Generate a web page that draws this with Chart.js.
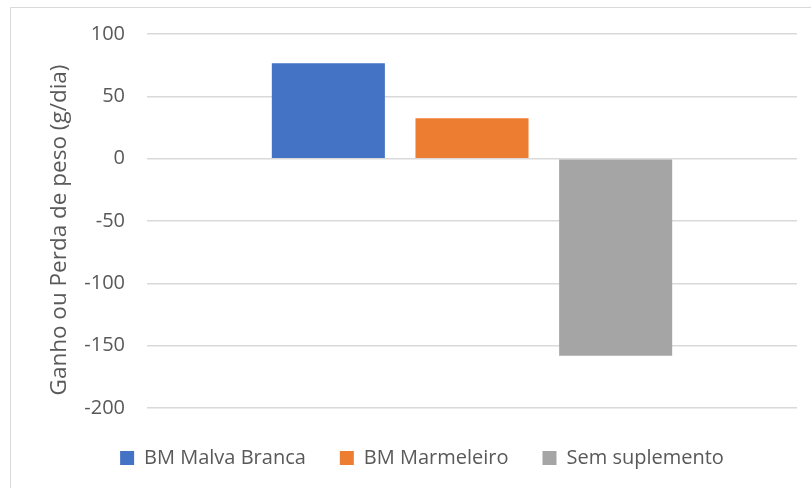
<!DOCTYPE html>
<html>
<head>
<meta charset="utf-8">
<script src="https://cdn.jsdelivr.net/npm/chart.js@4/dist/chart.umd.min.js"></script>
<style>
html,body{margin:0;padding:0;background:#fff;}
#wrap{width:811px;height:488px;position:relative;}
</style>
</head>
<body>
<div id="wrap"><canvas id="c" width="811" height="488"></canvas></div>
<script>
const categories = [''];
const seriesNames = ['BM Malva Branca', 'BM Marmeleiro', 'Sem suplemento'];
const malvaBranca = [76.5];
const marmeleiro = [32.5];
const semSuplemento = [-158];
const yTicks = [100, 50, 0, -50, -100, -150, -200];
const colors = ['#4472C4', '#ED7D31', '#A5A5A5'];
const axisTitle = 'Ganho ou Perda de peso (g/dia)';

const FONT = "'Open Sans', sans-serif";
const TEXT = '#595959';

const frame = {
  id: 'frame',
  beforeDraw(chart) {
    const ctx = chart.ctx;
    ctx.save();
    ctx.strokeStyle = '#d9d9d9';
    ctx.lineWidth = 1;
    ctx.beginPath();
    ctx.moveTo(10.5, 488);
    ctx.lineTo(10.5, 7.5);
    ctx.lineTo(811, 7.5);
    ctx.stroke();
    ctx.restore();
  }
};

const yTitle = {
  id: 'yTitle',
  afterDraw(chart) {
    const ctx = chart.ctx;
    const a = chart.chartArea;
    ctx.save();
    ctx.translate(60, (a.top + a.bottom) / 2 + 9);
    ctx.rotate(-Math.PI / 2);
    ctx.fillStyle = TEXT;
    ctx.font = "22.5px 'Open Sans', sans-serif";
    ctx.textAlign = 'center';
    ctx.textBaseline = 'middle';
    ctx.fillText(axisTitle, 0, 0);
    ctx.restore();
  }
};

new Chart(document.getElementById('c'), {
  type: 'bar',
  data: {
    labels: categories,
    datasets: [
      { label: seriesNames[0], data: malvaBranca, backgroundColor: colors[0] },
      { label: seriesNames[1], data: marmeleiro, backgroundColor: colors[1] },
      { label: seriesNames[2], data: semSuplemento, backgroundColor: colors[2] }
    ]
  },
  options: {
    responsive: false,
    animation: false,
    devicePixelRatio: 1,
    categoryPercentage: 0.663,
    barPercentage: 0.787,
    layout: { padding: { left: 47, right: 14, top: 31, bottom: 10 } },
    plugins: {
      legend: {
        position: 'bottom',
        labels: {
          boxWidth: 14, boxHeight: 14, padding: 34,
          color: TEXT,
          font: { family: FONT, size: 20 }
        }
      },
      tooltip: { enabled: false }
    },
    scales: {
      x: {
        display: true,
        grid: { display: false },
        border: { display: false },
        ticks: { display: false },
        afterFit(scale) { scale.height = 6; }
      },
      y: {
        min: -200, max: 100,
        afterBuildTicks(scale) { scale.ticks = yTicks.map(v => ({ value: v })); },
        afterFit(scale) { scale.width = 100; },
        grid: { color: '#d9d9d9', lineWidth: 1.5, drawTicks: false },
        border: { display: false },
        ticks: { color: TEXT, font: { family: FONT, size: 20 }, padding: 22 },
        title: { display: false, text: axisTitle }
      }
    }
  },
  plugins: [frame, yTitle]
});
</script>
</body>
</html>
